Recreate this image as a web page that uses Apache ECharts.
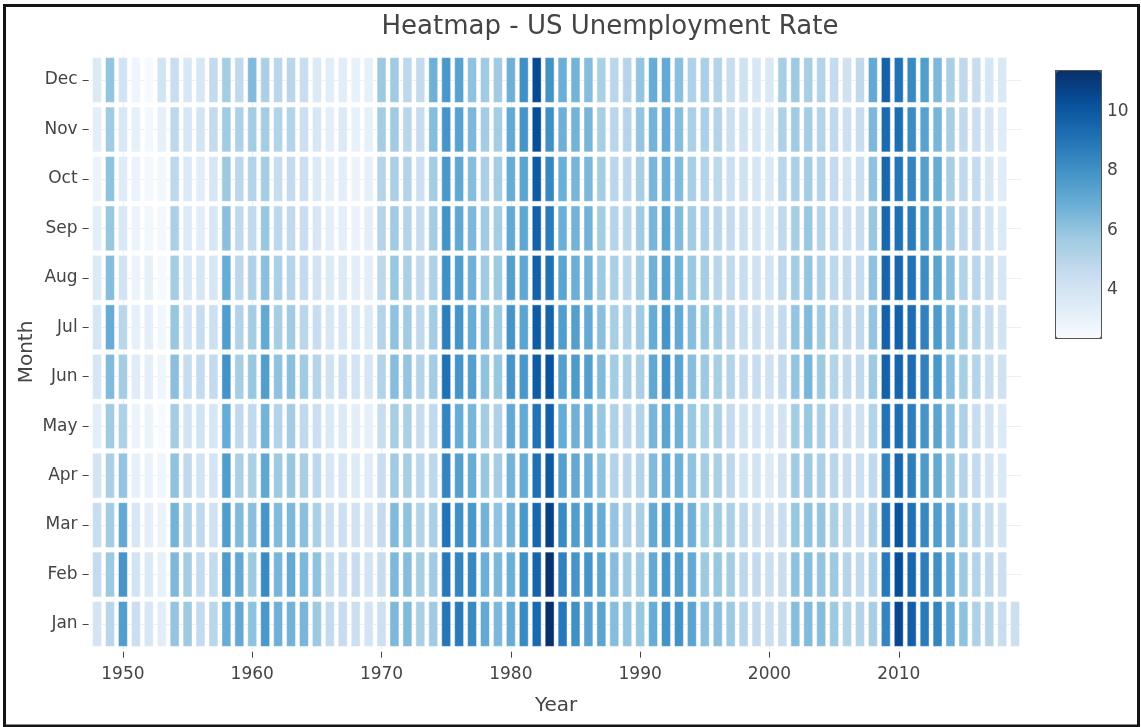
<!DOCTYPE html>
<html>
<head>
<meta charset="utf-8">
<title>Heatmap - US Unemployment Rate</title>
<script src="https://cdn.jsdelivr.net/npm/echarts@6/dist/echarts.min.js"></script>
<style>
  html, body { margin: 0; padding: 0; background: #fff; }
  #chart { width: 1141px; height: 727px; }
</style>
</head>
<body>
<div id="chart"></div>
<script>
// monthly unemployment rate (%), not seasonally adjusted, Jan..Dec per year
const months = ["Jan", "Feb", "Mar", "Apr", "May", "Jun", "Jul", "Aug", "Sep", "Oct", "Nov", "Dec"];
const firstYear = 1948;

const rates1940s = [
  [4.0, 4.7, 4.5, 4.0, 3.4, 3.9, 3.9, 3.6, 3.4, 2.9, 3.3, 3.6],
  [5.0, 5.8, 5.6, 5.4, 5.7, 6.4, 7.0, 6.3, 5.9, 6.1, 5.7, 6.0],
];
const rates1950s = [
  [7.6, 7.9, 7.1, 6.0, 5.3, 5.6, 5.0, 4.1, 3.8, 3.5, 3.8, 4.1],
  [4.4, 4.1, 3.9, 3.2, 2.9, 3.5, 3.2, 2.9, 2.9, 3.0, 3.2, 2.8],
  [3.8, 3.7, 3.3, 3.0, 2.9, 3.3, 3.3, 3.2, 2.7, 2.6, 2.6, 2.4],
  [3.4, 3.1, 3.0, 2.8, 2.4, 2.8, 2.7, 2.5, 2.6, 2.7, 3.2, 4.1],
  [6.0, 6.5, 6.7, 6.1, 5.6, 6.2, 5.9, 5.6, 5.4, 4.9, 4.9, 4.5],
  [5.8, 5.6, 5.2, 4.8, 4.1, 4.6, 4.1, 3.9, 3.6, 3.7, 3.9, 3.8],
  [4.7, 4.7, 4.8, 4.1, 4.1, 4.7, 4.5, 3.9, 3.4, 3.4, 4.0, 3.8],
  [5.0, 4.7, 4.2, 4.0, 3.9, 4.7, 4.3, 3.9, 3.9, 3.9, 4.7, 4.7],
  [7.0, 7.7, 7.6, 7.6, 7.0, 8.0, 7.6, 7.0, 6.2, 5.8, 5.7, 5.6],
  [7.1, 7.1, 6.4, 5.4, 4.8, 5.5, 5.2, 4.9, 4.8, 4.9, 5.3, 4.8],
];
const rates1960s = [
  [6.1, 5.8, 6.2, 5.4, 4.8, 5.9, 5.6, 5.3, 4.8, 5.2, 5.6, 6.4],
  [7.8, 8.3, 7.9, 7.2, 6.7, 7.6, 7.1, 6.2, 5.9, 5.6, 5.6, 5.4],
  [6.8, 6.6, 6.4, 5.8, 5.2, 6.1, 5.5, 5.4, 4.9, 4.6, 5.2, 5.0],
  [6.7, 7.1, 6.5, 5.9, 5.6, 6.2, 5.7, 5.1, 4.8, 4.7, 5.2, 5.0],
  [6.6, 6.5, 6.2, 5.5, 4.8, 5.7, 5.0, 4.7, 4.5, 4.4, 4.4, 4.5],
  [5.8, 6.1, 5.4, 4.9, 4.4, 5.1, 4.5, 4.1, 3.8, 3.6, 3.8, 3.6],
  [4.7, 4.6, 4.3, 3.9, 3.7, 4.2, 3.9, 3.6, 3.3, 3.2, 3.3, 3.4],
  [4.6, 4.6, 4.3, 3.9, 3.6, 4.3, 3.9, 3.6, 3.3, 3.4, 3.6, 3.4],
  [4.4, 4.6, 4.2, 3.6, 3.3, 4.1, 3.8, 3.3, 3.0, 2.9, 3.1, 3.1],
  [4.0, 4.1, 3.9, 3.5, 3.2, 3.9, 3.6, 3.3, 3.3, 3.2, 3.2, 3.2],
];
const rates1970s = [
  [4.3, 4.6, 4.7, 4.5, 4.5, 5.2, 5.1, 4.9, 5.1, 5.1, 5.6, 5.8],
  [6.5, 6.5, 6.4, 5.7, 5.5, 6.3, 6.1, 5.9, 5.7, 5.4, 5.7, 5.7],
  [6.4, 6.3, 6.1, 5.5, 5.4, 6.0, 5.7, 5.4, 5.2, 5.2, 5.0, 4.9],
  [5.4, 5.5, 5.2, 4.9, 4.6, 5.1, 4.8, 4.7, 4.6, 4.3, 4.6, 4.7],
  [5.7, 5.7, 5.4, 4.9, 4.8, 5.6, 5.6, 5.3, 5.6, 5.6, 6.3, 6.8],
  [9.0, 8.9, 9.1, 8.5, 8.5, 9.2, 8.7, 8.1, 8.0, 7.8, 7.9, 7.8],
  [8.8, 8.5, 8.1, 7.5, 7.0, 7.9, 7.9, 7.6, 7.2, 7.2, 7.4, 7.4],
  [8.3, 8.4, 7.8, 7.0, 6.6, 7.5, 7.0, 6.8, 6.5, 6.3, 6.5, 6.1],
  [7.1, 6.9, 6.7, 5.9, 5.6, 6.1, 6.3, 5.7, 5.7, 5.4, 5.6, 5.7],
  [6.5, 6.5, 6.1, 5.6, 5.3, 5.9, 5.8, 5.8, 5.6, 5.6, 5.6, 5.7],
];
const rates1980s = [
  [7.0, 6.9, 6.7, 6.7, 7.1, 7.9, 7.9, 7.5, 7.1, 7.0, 7.1, 6.8],
  [8.3, 8.1, 7.8, 7.0, 7.1, 7.8, 7.3, 7.2, 7.2, 7.3, 7.9, 8.1],
  [9.4, 9.6, 9.5, 9.2, 9.1, 9.9, 9.9, 9.7, 9.7, 9.9, 10.4, 10.5],
  [11.4, 11.3, 10.8, 10.0, 9.8, 10.2, 9.6, 9.2, 8.8, 8.4, 8.1, 8.0],
  [8.9, 8.6, 8.3, 7.5, 7.0, 7.5, 7.6, 7.3, 6.9, 6.9, 6.8, 6.9],
  [8.1, 7.9, 7.6, 7.1, 6.8, 7.7, 7.5, 6.9, 6.7, 6.6, 6.7, 6.7],
  [7.4, 7.9, 7.6, 6.9, 6.8, 7.5, 7.1, 6.7, 6.7, 6.5, 6.6, 6.3],
  [7.3, 7.3, 7.0, 6.1, 5.9, 6.4, 6.2, 5.8, 5.6, 5.6, 5.5, 5.4],
  [6.3, 6.3, 6.0, 5.2, 5.3, 5.6, 5.5, 5.4, 5.1, 5.0, 5.0, 5.0],
  [6.0, 5.7, 5.3, 5.0, 4.9, 5.5, 5.3, 5.0, 5.0, 4.9, 5.1, 5.1],
];
const rates1990s = [
  [5.9, 5.7, 5.4, 5.2, 5.2, 5.4, 5.7, 5.6, 5.7, 5.5, 6.0, 6.0],
  [7.0, 7.1, 7.1, 6.4, 6.6, 7.2, 7.0, 6.8, 6.6, 6.6, 6.7, 7.0],
  [8.0, 7.9, 7.7, 7.1, 7.3, 8.1, 7.9, 7.5, 7.3, 6.9, 7.1, 7.1],
  [8.0, 7.6, 7.3, 6.8, 6.8, 7.3, 7.1, 6.7, 6.4, 6.4, 6.3, 6.2],
  [7.3, 7.1, 6.8, 6.1, 5.9, 6.3, 6.3, 5.9, 5.7, 5.5, 5.4, 5.3],
  [6.2, 5.8, 5.6, 5.6, 5.4, 5.8, 5.9, 5.6, 5.4, 5.2, 5.4, 5.4],
  [6.2, 5.9, 5.7, 5.4, 5.4, 5.5, 5.7, 5.0, 5.0, 4.9, 5.2, 5.2],
  [5.8, 5.6, 5.4, 4.9, 4.7, 5.2, 5.0, 4.8, 4.7, 4.4, 4.4, 4.5],
  [5.1, 4.9, 4.9, 4.1, 4.2, 4.7, 4.6, 4.5, 4.4, 4.2, 4.2, 4.2],
  [4.7, 4.7, 4.4, 4.1, 4.0, 4.5, 4.4, 4.2, 4.0, 3.9, 3.9, 3.8],
];
const rates2000s = [
  [4.4, 4.4, 4.2, 3.6, 3.8, 4.2, 4.1, 4.1, 3.7, 3.7, 3.7, 3.7],
  [4.6, 4.5, 4.5, 4.2, 4.1, 4.7, 4.7, 4.9, 4.8, 5.0, 5.3, 5.5],
  [6.3, 6.1, 5.9, 5.7, 5.6, 6.0, 6.0, 5.6, 5.5, 5.4, 5.7, 5.8],
  [6.4, 6.3, 6.1, 5.8, 5.9, 6.6, 6.4, 6.0, 5.9, 5.6, 5.6, 5.5],
  [6.3, 6.0, 6.0, 5.4, 5.4, 5.8, 5.7, 5.3, 5.2, 5.2, 5.2, 5.2],
  [5.8, 5.8, 5.4, 5.0, 4.9, 5.2, 5.2, 4.9, 4.8, 4.7, 4.8, 4.7],
  [5.2, 5.1, 4.9, 4.5, 4.4, 4.8, 4.8, 4.7, 4.3, 4.1, 4.3, 4.2],
  [5.1, 4.8, 4.6, 4.3, 4.2, 4.8, 4.8, 4.6, 4.5, 4.4, 4.5, 4.8],
  [5.5, 5.2, 5.3, 4.8, 5.2, 5.8, 6.0, 6.1, 5.9, 6.1, 6.5, 7.1],
  [8.5, 8.9, 9.0, 8.6, 9.1, 9.7, 9.7, 9.6, 9.5, 9.5, 9.4, 9.7],
];
const rates2010s = [
  [10.6, 10.4, 10.2, 9.5, 9.3, 9.6, 9.7, 9.5, 9.2, 9.0, 9.3, 9.1],
  [9.8, 9.5, 9.2, 8.7, 8.7, 9.3, 9.3, 9.1, 8.8, 8.5, 8.2, 8.3],
  [8.8, 8.7, 8.4, 7.7, 7.9, 8.6, 8.6, 8.2, 7.6, 7.5, 7.4, 7.6],
  [8.5, 8.1, 7.6, 7.1, 7.3, 7.8, 7.7, 7.3, 7.0, 7.0, 6.6, 6.5],
  [7.0, 7.0, 6.8, 5.9, 6.1, 6.3, 6.5, 6.3, 5.7, 5.5, 5.5, 5.4],
  [6.1, 5.8, 5.6, 5.1, 5.3, 5.5, 5.6, 5.2, 4.9, 4.8, 4.8, 4.8],
  [5.3, 5.2, 5.1, 4.7, 4.5, 5.1, 5.1, 5.0, 4.8, 4.7, 4.4, 4.5],
  [5.1, 4.9, 4.6, 4.1, 4.1, 4.5, 4.6, 4.5, 4.1, 3.9, 3.9, 3.9],
  [4.5, 4.4, 4.1, 3.7, 3.6, 4.2, 4.1, 3.9, 3.6, 3.5, 3.5, 3.7],
  [4.4],
];

const yearTicks = [1950, 1960, 1970, 1980, 1990, 2000, 2010];
const colorbarTicks = [4, 6, 8, 10];
// colorbrewer Blues
const blues = ["#f7fbff", "#deebf7", "#c6dbef", "#9ecae1", "#6baed6", "#4292c6", "#2171b5", "#08519c", "#08306b"];

const allRows = [].concat(rates1940s, rates1950s, rates1960s, rates1970s, rates1980s, rates1990s, rates2000s, rates2010s);
const cells = [];
allRows.forEach((row, i) => {
  row.forEach((v, m) => cells.push([firstYear + i, m, v]));
});
const flat = cells.map(c => c[2]);
const zMin = Math.min(...flat);
const zMax = Math.max(...flat);

const font = "DejaVu Sans";
const textColor = "#444";

const chart = echarts.init(document.getElementById("chart"));

chart.setOption({
  animation: false,
  backgroundColor: "#fff",
  title: {
    text: "Heatmap - US Unemployment Rate",
    left: 610,
    top: 12,
    padding: 0,
    textAlign: "center",
    textStyle: { fontFamily: font, fontSize: 26, fontWeight: "normal", color: textColor, lineHeight: 30 }
  },
  graphic: [{
    type: "rect",
    shape: { x: 4.5, y: 5.5, width: 1134, height: 720.5 },
    style: { fill: "none", stroke: "#151515", lineWidth: 3 },
    silent: true,
    z: 100
  }],
  grid: [
    { left: 90.6, right: 119.4, top: 55.3, bottom: 78.3 },
    { left: 1055, top: 70, width: 45, height: 267 }
  ],
  xAxis: [{
    type: "value",
    min: firstYear - 0.5,
    max: firstYear + allRows.length - 0.5,
    offset: 3,
    name: "Year",
    nameLocation: "middle",
    nameGap: 44,
    nameMoveOverlap: false,
    nameTextStyle: { fontFamily: font, fontSize: 20, color: textColor },
    axisLine: { show: true, onZero: false, lineStyle: { color: "rgba(0,0,0,0)" } },
    axisTick: { show: true, inside: false, customValues: yearTicks, length: 6, lineStyle: { color: textColor, width: 1 } },
    axisLabel: {
      customValues: yearTicks,
      margin: 14,
      fontFamily: font,
      fontSize: 17,
      color: textColor,
      formatter: v => String(v)
    },
    splitLine: { show: true, lineStyle: { color: "#eee", width: 1 } }
  }, {
    type: "value",
    gridIndex: 1,
    show: false
  }],
  yAxis: [{
    type: "value",
    min: -0.5,
    max: 11.5,
    offset: 2,
    name: "Month",
    nameLocation: "middle",
    nameRotate: 90,
    nameGap: 52,
    nameMoveOverlap: false,
    nameTextStyle: { fontFamily: font, fontSize: 20, color: textColor },
    axisLine: { show: false, onZero: false },
    axisTick: { show: true, customValues: months.map((m, i) => i), length: 6, lineStyle: { color: textColor, width: 1 } },
    axisLabel: {
      customValues: months.map((m, i) => i),
      margin: 11,
      fontFamily: font,
      fontSize: 17,
      color: textColor,
      formatter: v => months[v]
    },
    splitLine: { show: true, lineStyle: { color: "#eee", width: 1 } }
  }, {
    type: "value",
    gridIndex: 1,
    position: "right",
    min: zMin,
    max: zMax,
    axisLine: { show: false },
    axisTick: { show: true, customValues: colorbarTicks, length: 5, lineStyle: { color: textColor, width: 1 } },
    axisLabel: { customValues: colorbarTicks, margin: 7, fontFamily: font, fontSize: 17, color: textColor },
    splitLine: { show: false }
  }],
  visualMap: {
    type: "continuous",
    seriesIndex: 0,
    dimension: 2,
    min: zMin,
    max: zMax,
    calculable: false,
    hoverLink: false,
    orient: "vertical",
    left: 1055,
    top: 70,
    itemWidth: 45,
    itemHeight: 267,
    padding: 0,
    text: null,
    showLabel: false,
    borderColor: "#555",
    borderWidth: 2,
    inRange: { color: blues }
  },
  series: [{
    type: "custom",
    xAxisIndex: 0,
    yAxisIndex: 0,
    data: cells,
    encode: { x: 0, y: 1 },
    renderItem: (params, api) => {
      const c = api.coord([api.value(0), api.value(1)]);
      const s = api.size([1, 1]);
      return {
        type: "rect",
        shape: { x: c[0] - s[0] / 2 + 2, y: c[1] - s[1] / 2 + 2.3, width: s[0] - 4, height: s[1] - 4.6 },
        style: { fill: api.visual("color"), stroke: "rgba(255,255,255,0.45)", lineWidth: 1 }
      };
    }
  }]
});
</script>
</body>
</html>
